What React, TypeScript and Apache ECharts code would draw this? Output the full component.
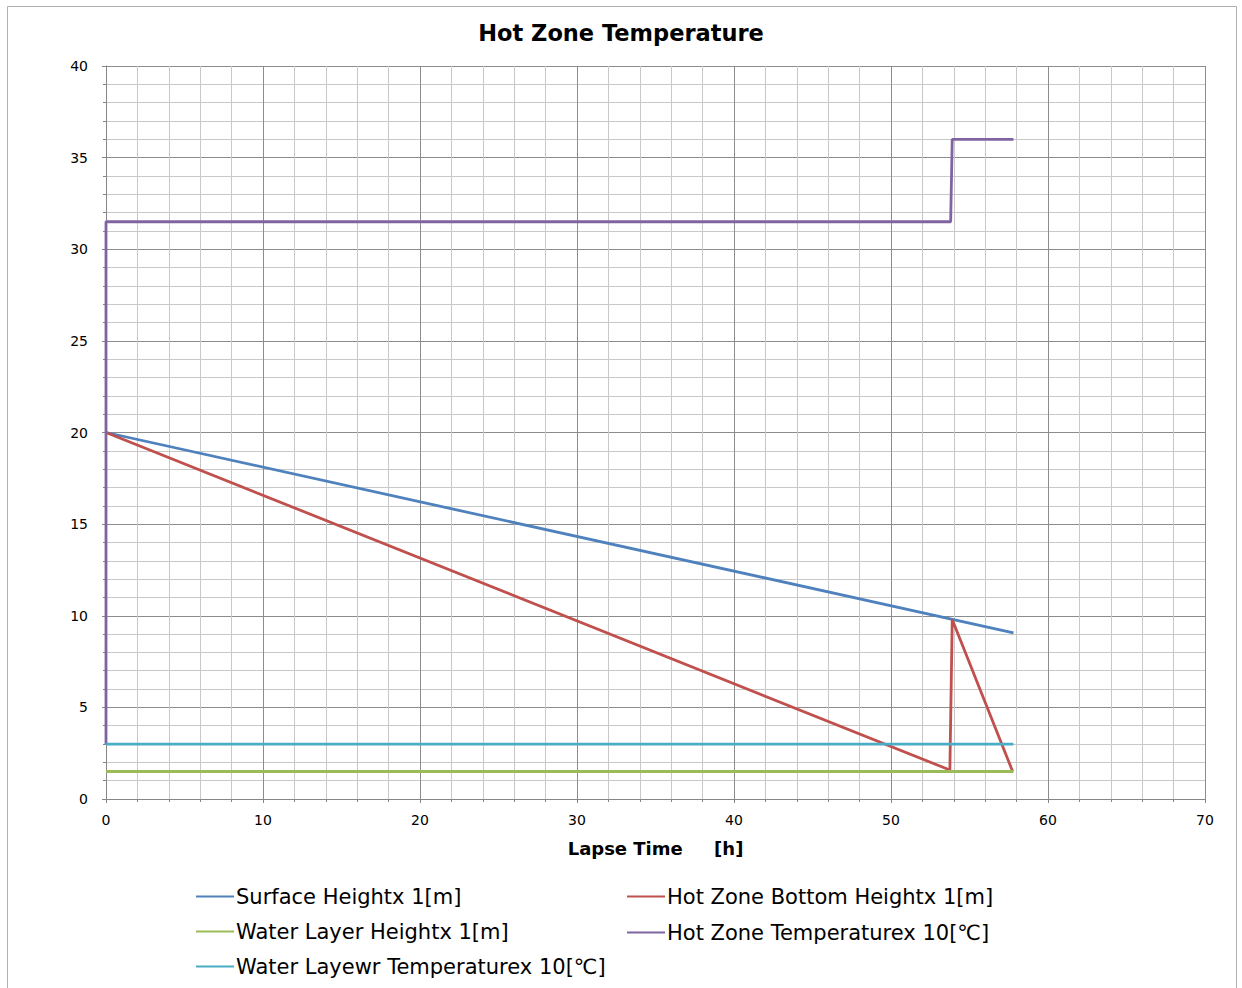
import React, { useEffect, useRef } from "react";
import * as echarts from "echarts";

const titleText = "Hot Zone Temperature";
const xAxisName = "Lapse Time     [h]";
const seriesNames = [
  "Surface Heightx 1[m]",
  "Hot Zone Bottom Heightx 1[m]",
  "Water Layer Heightx 1[m]",
  "Hot Zone Temperaturex 10[℃]",
  "Water Layewr Temperaturex 10[℃]",
];
const seriesColors = ["#4F81BD", "#C0504D", "#9BBB59", "#8064A2", "#4BACC6"];

const surfaceHeight: [number, number][] = [
  [0, 20],
  [57.8, 9.07],
];
const hotZoneBottom: [number, number][] = [
  [0, 20],
  [53.75, 1.58],
  [53.9, 9.8],
  [57.75, 1.5],
];
const waterLayerHeight: [number, number][] = [
  [0, 1.5],
  [57.8, 1.5],
];
const hotZoneTemp: [number, number][] = [
  [0, 3],
  [0, 31.5],
  [53.8, 31.5],
  [53.9, 36],
  [57.8, 36],
];
const waterLayerTemp: [number, number][] = [
  [0, 3],
  [57.8, 3],
];
const allData = [surfaceHeight, hotZoneBottom, waterLayerHeight, hotZoneTemp, waterLayerTemp];

const legendPos = [
  { left: 196, top: 886 },
  { left: 627, top: 886 },
  { left: 196, top: 921 },
  { left: 627, top: 922 },
  { left: 196, top: 956 },
];

export default function App() {
  const ref = useRef<HTMLDivElement>(null);
  useEffect(() => {
    document.body.style.margin = "0";
    const chart = echarts.init(ref.current!, null, { renderer: "svg" });
    const font = "'DejaVu Sans', Verdana, sans-serif";
    chart.setOption({
      animation: false,
      backgroundColor: "#ffffff",
      title: {
        text: titleText,
        left: "center",
        top: 16,
        textStyle: { fontFamily: font, fontWeight: "bold", fontSize: 22.5, color: "#000" },
      },
      graphic: [
        {
          type: "rect",
          shape: { x: 7.5, y: 6.5, width: 1229, height: 990 },
          style: { fill: "none", stroke: "#b0b0b0", lineWidth: 1 },
          silent: true,
        },
      ],
      legend: seriesNames.map((n, i) => ({
        data: [n],
        left: legendPos[i].left,
        top: legendPos[i].top,
        icon: "rect",
        itemWidth: 38,
        itemHeight: 2,
        itemGap: 0,
        padding: 0,
        textStyle: { fontFamily: font, fontSize: 21, color: "#000", padding: [0, 0, 0, -3] },
        selectedMode: false,
      })),
      grid: { left: 106, right: 37, top: 66, bottom: 189, containLabel: false },
      xAxis: {
        type: "value",
        min: 0,
        max: 70,
        interval: 10,
        name: xAxisName,
        nameLocation: "middle",
        nameGap: 40,
        nameTextStyle: { fontFamily: font, fontWeight: "bold", fontSize: 18, color: "#000" },
        axisLine: { show: true, onZero: false, lineStyle: { color: "#868686", width: 1 } },
        axisTick: { show: true, length: 4, inside: false, lineStyle: { color: "#868686" } },
        minorTick: { show: true, splitNumber: 5, length: 3, lineStyle: { color: "#868686" } },
        axisLabel: { fontFamily: font, fontSize: 14, color: "#000", margin: 14 },
        splitLine: { show: true, lineStyle: { color: "#8c8c8c", width: 1 } },
        minorSplitLine: { show: true, lineStyle: { color: "#c8c8c8", width: 1 } },
      },
      yAxis: {
        type: "value",
        min: 0,
        max: 40,
        interval: 5,
        axisLine: { show: true, lineStyle: { color: "#868686", width: 1 } },
        axisTick: { show: true, length: 4, lineStyle: { color: "#868686" } },
        minorTick: { show: true, splitNumber: 5, length: 3, lineStyle: { color: "#868686" } },
        axisLabel: { fontFamily: font, fontSize: 14, color: "#000", margin: 18 },
        splitLine: { show: true, lineStyle: { color: "#8c8c8c", width: 1 } },
        minorSplitLine: { show: true, lineStyle: { color: "#c8c8c8", width: 1 } },
      },
      series: seriesNames.map((n, i) => ({
        name: n,
        type: "line",
        data: allData[i],
        showSymbol: false,
        symbol: "none",
        lineStyle: { color: seriesColors[i], width: 2.8 },
        itemStyle: { color: seriesColors[i] },
      })),
    });
    return () => chart.dispose();
  }, []);
  return <div ref={ref} style={{ width: 1242, height: 988 }} />;
}
